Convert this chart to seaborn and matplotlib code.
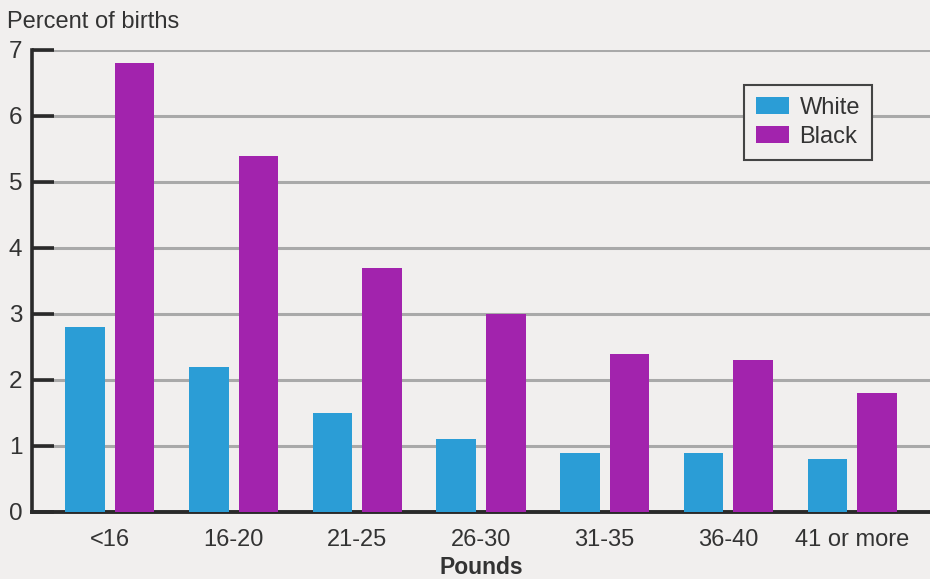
import matplotlib
matplotlib.use("Agg")
import matplotlib.pyplot as plt
import seaborn as sns
import pandas as pd

categories = ["<16", "16-20", "21-25", "26-30", "31-35", "36-40", "41 or more"]
white = [2.8, 2.2, 1.5, 1.1, 0.9, 0.9, 0.8]
black = [6.8, 5.4, 3.7, 3.0, 2.4, 2.3, 1.8]
series = ["White", "Black"]
yticks = [0, 1, 2, 3, 4, 5, 6, 7]

df = pd.DataFrame({
    "Pounds": categories * 2,
    "Percent": white + black,
    "Race": ["White"] * len(categories) + ["Black"] * len(categories),
})

sns.set_theme(style="white")
plt.rcParams["font.family"] = ["Liberation Sans", "DejaVu Sans"]

bg = "#f1efee"
fig = plt.figure(figsize=(9.3, 5.79), dpi=100, facecolor=bg)
ax = fig.add_axes([32 / 930, 67 / 579, 1 - 32 / 930, (512 - 50) / 579])
ax.set_facecolor(bg)

sns.barplot(data=df, x="Pounds", y="Percent", hue="Race", order=categories,
            hue_order=series, palette={"White": "#2b9dd6", "Black": "#a223ad"},
            width=0.8, gap=0.2, saturation=1, errorbar=None, ax=ax, zorder=3,
            linewidth=0)

ax.set_ylim(0, 7)
ax.set_xlim(-0.63, 6.63)
ax.set_yticks(yticks)
ax.grid(axis="y", color="#a9a9a9", linewidth=2.2, zorder=0)
ax.set_axisbelow(True)
for s in ["top", "right"]:
    ax.spines[s].set_visible(False)
ax.spines["left"].set_color("#2a2a2a")
ax.spines["left"].set_linewidth(2.6)
ax.spines["bottom"].set_color("#2a2a2a")
ax.spines["bottom"].set_linewidth(2.8)
ax.tick_params(axis="y", direction="in", length=16, width=2.6, color="#2a2a2a",
               labelsize=17.5, labelcolor="#333333", pad=7, left=True)
ax.tick_params(axis="x", length=0, labelsize=17, labelcolor="#333333", pad=12)
ax.set_ylabel("")
ax.set_xlabel("Pounds", fontsize=16.5, fontweight="bold", color="#333333", labelpad=4)
fig.text(7 / 930, 1 - 22 / 579, "Percent of births", fontsize=17, color="#333333",
         ha="left", va="center")

leg = ax.legend(loc="upper left", bbox_to_anchor=((744 - 32) / 898, (512 - 85) / 462),
                borderaxespad=0, frameon=True, fancybox=False, fontsize=17,
                handlelength=1.4, handleheight=0.7, handletextpad=0.45,
                borderpad=0.5, labelspacing=0.3, title=None)
leg.get_frame().set_edgecolor("#444444")
leg.get_frame().set_linewidth(1.5)
leg.get_frame().set_facecolor(bg)
leg.get_frame().set_alpha(1)
for t in leg.get_texts():
    t.set_color("#333333")

fig.savefig("out.png", dpi=100, facecolor=bg)
